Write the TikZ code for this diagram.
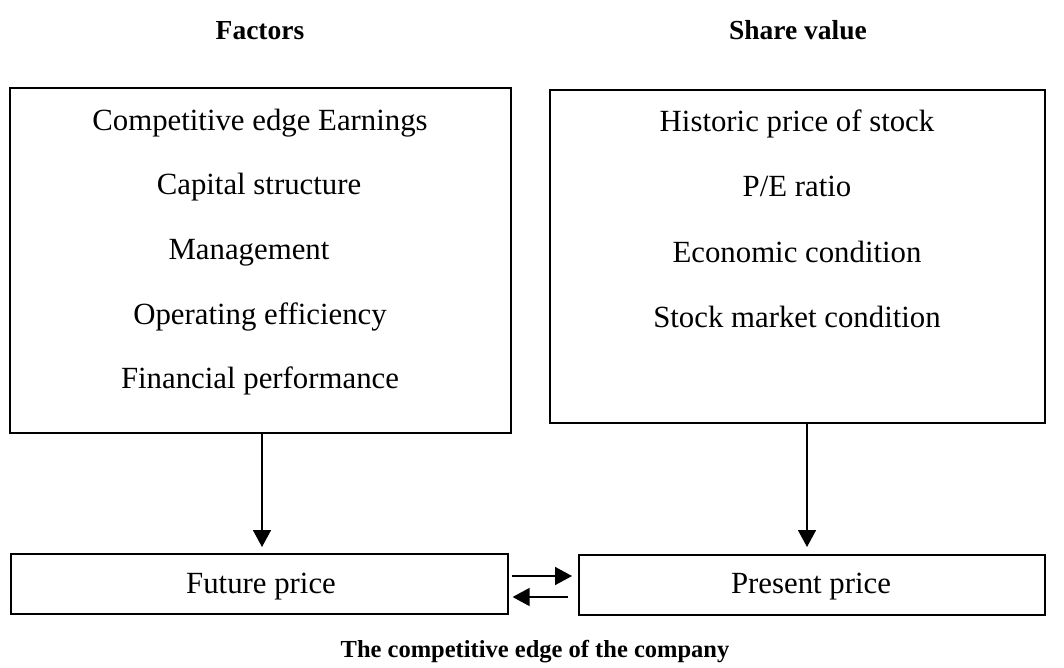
\documentclass[tikz,border=0pt]{standalone}
\usepackage{fontspec}
\setmainfont{Liberation Serif}
\usetikzlibrary{arrows.meta,calc}
\begin{document}
\begin{tikzpicture}[x=1pt,y=-1pt,
  box/.style={draw,line width=1.6pt,inner sep=0pt,anchor=north west},
  txt/.style={font=\fontsize{30.8}{34}\selectfont,inner sep=0pt,anchor=base},
  head/.style={font=\fontsize{27.5}{30}\selectfont\bfseries,inner sep=0pt,anchor=base},
  ttl/.style={font=\fontsize{24.5}{28}\selectfont\bfseries,inner sep=0pt,anchor=base},
  arr/.style={line width=1.6pt,-{Triangle[length=17pt,width=18pt]}}]
\useasboundingbox (0,0) rectangle (1064,668);
\node[head] (hf) at (260,40) {Factors};
\node[head] (hs) at (798,40) {Share value};
\node[box,minimum width=501pt,minimum height=345pt] (lbox) at (9,87) {};
\node[box,minimum width=495pt,minimum height=333pt] (rbox) at (549,89) {};
\node[txt] (l1) at (260,131) {Competitive edge Earnings};
\node[txt] (l2) at (259,195) {Capital structure};
\node[txt] (l3) at (249,259) {Management};
\node[txt] (l4) at (260,324) {Operating efficiency};
\node[txt] (l5) at (260,388) {Financial performance};
\node[txt] (r1) at (797,132) {Historic price of stock};
\node[txt] (r2) at (797,197) {P/E ratio};
\node[txt] (r3) at (797,262) {Economic condition};
\node[txt] (r4) at (797,327) {Stock market condition};
\node[box,minimum width=497pt,minimum height=60pt] (fut) at (10,553) {};
\node[txt] (ft) at (261,593) {Future price};
\node[box,minimum width=466pt,minimum height=60pt] (pres) at (578,554) {};
\node[txt] (pt) at (811,593) {Present price};
\node[ttl] (title) at (535,657) {The competitive edge of the company};
\draw[arr,shorten >=6pt] (lbox.south -| 262,0) -- (fut.north -| 262,0);
\draw[arr,shorten >=7pt] (rbox.south -| 807,0) -- (pres.north -| 807,0);
\draw[arr,shorten <=3pt,shorten >=6pt] (fut.east |- 0,576) -- (pres.west |- 0,576);
\draw[arr,shorten <=10pt,shorten >=4pt] (pres.west |- 0,597) -- (fut.east |- 0,597);
\end{tikzpicture}
\end{document}
